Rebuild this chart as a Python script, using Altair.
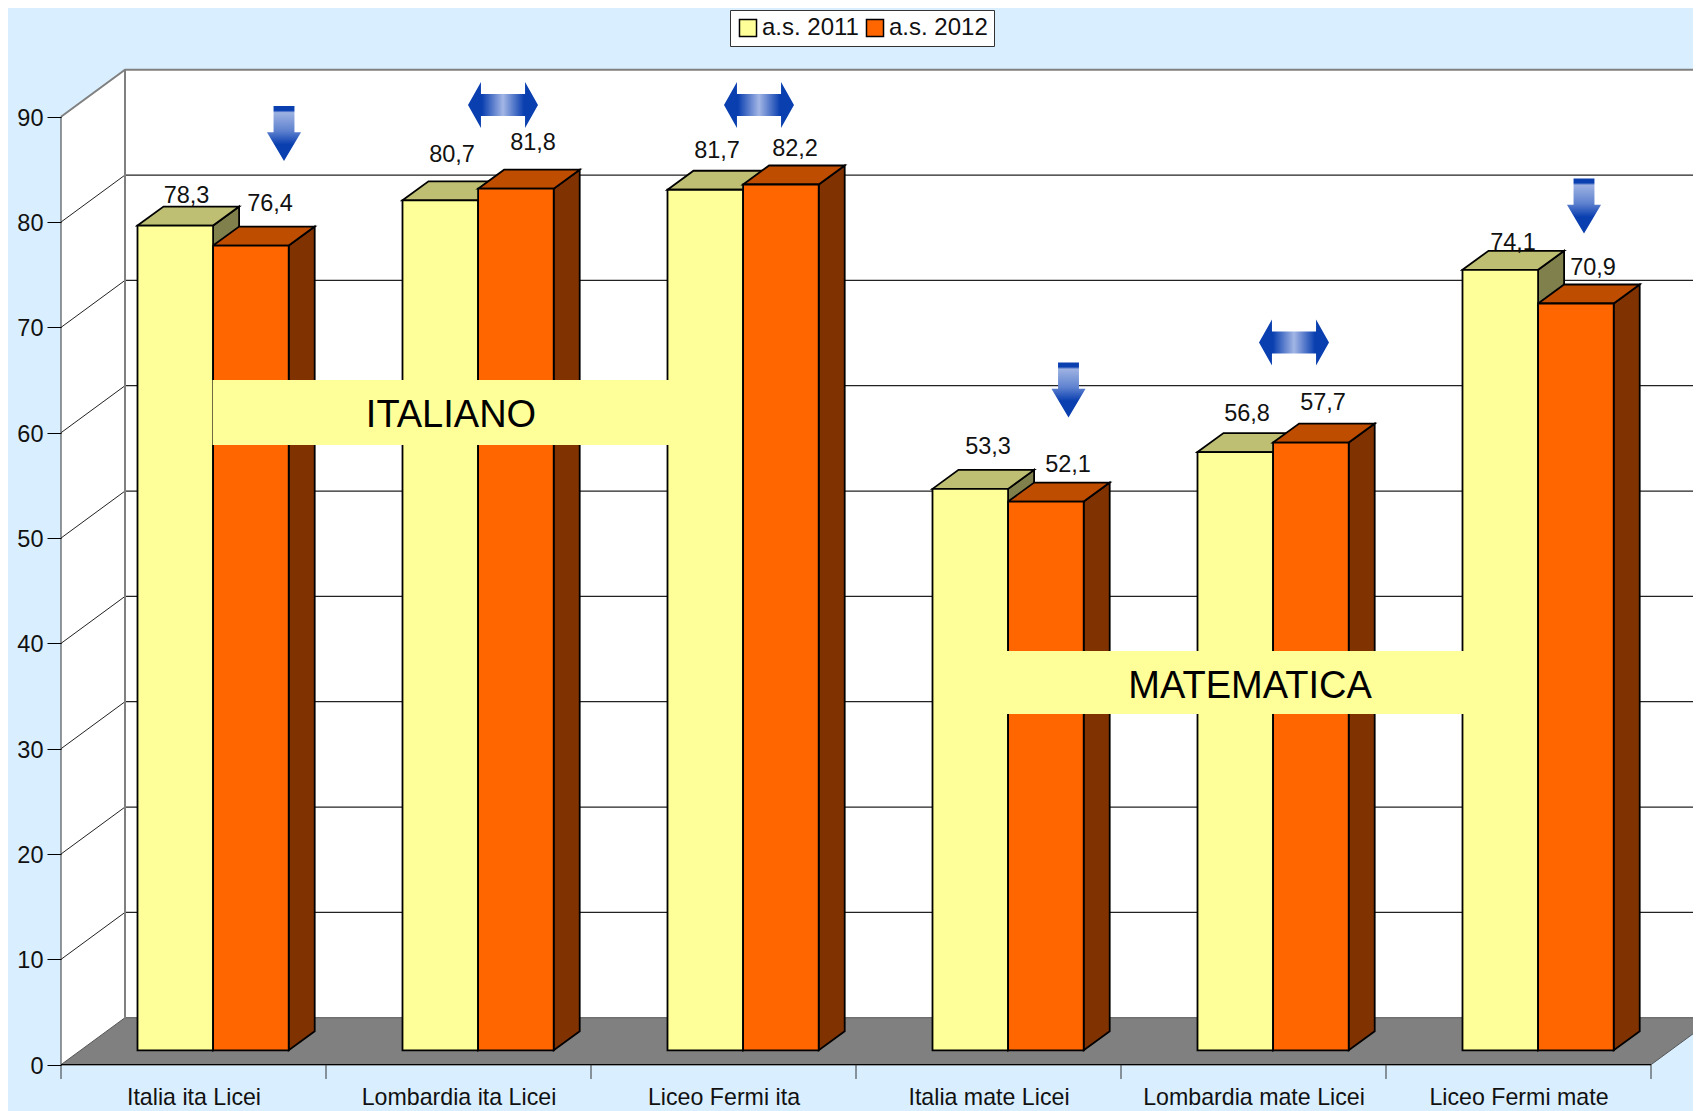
import altair as alt
import pandas as pd

# ---- chart values ----
categories = ["Italia ita Licei", "Lombardia ita Licei", "Liceo Fermi ita",
              "Italia mate Licei", "Lombardia mate Licei", "Liceo Fermi mate"]
series = ["a.s. 2011", "a.s. 2012"]
values_2011 = [78.3, 80.7, 81.7, 53.3, 56.8, 74.1]
values_2012 = [76.4, 81.8, 82.2, 52.1, 57.7, 70.9]
trend = ["down", "same", "same", "down", "same", "down"]
y_ticks = [0, 10, 20, 30, 40, 50, 60, 70, 80, 90]

# ---- layout (page pixels), only used to set up scales and offsets ----
W, H = 1685, 1103
X0, Y0 = 61.0, 1064.7      # axis origin on the front plane
CW = 265.0                 # category width
UY = 10.533                # pixels per value unit
ux = lambda px: (px - X0) / CW
uy = lambda py: (Y0 - py) / UY
DX, DY = 64 / CW, 47 / UY          # depth of the box
BX, BY = 19.6 / CW, 14.4 / UY      # bars' front plane within the box
SX, SY = 26 / CW, 19 / UY          # depth of a bar
BW = 75.6 / CW                     # width of one bar
YMAX = 90

xscale = alt.Scale(domain=[ux(8), ux(8 + W)], nice=False, zero=False)
yscale = alt.Scale(domain=[uy(8 + H), uy(8)], nice=False, zero=False)
XMAX = 6 + DX

FONT = "Liberation Sans"
BG = "#D9EFFF"
COL = {"a.s. 2011": ("#FFFF99", "#BFBF73", "#80804D"),
       "a.s. 2012": ("#FF6600", "#BF4D00", "#803300")}

# ---- axes ----
yaxis = alt.Axis(values=y_ticks, offset=-(X0 - 8), domain=False, grid=False, tickColor="black",
                 tickSize=14, tickWidth=1, labelFont=FONT, labelFontSize=23.5, labelColor="#111111",
                 labelPadding=4, labelOffset=1.5, format="d", zindex=1)
names_js = "[" + ",".join(f"'{c}'" for c in categories) + "]"
xaxis = alt.Axis(values=[i + 0.5 for i in range(6)], offset=-(8 + H - Y0), domain=False, grid=False,
                 ticks=False, labelFont=FONT, labelFontSize=23.2, labelColor="#111111",
                 labelPadding=22, labelExpr=names_js + "[floor(datum.value)]", labelFlush=False,
                 labelOverlap=False, labelLimit=400, zindex=1)


def X():
    return alt.X("x:Q", scale=xscale, axis=xaxis, title=None)


def Y():
    return alt.Y("y:Q", scale=yscale, axis=yaxis, title=None)


# ---- bar tables ----
fronts, sides, tops = [], [], []
for s_i, (name, vals) in enumerate(zip(series, [values_2011, values_2012])):
    for i, v in enumerate(vals):
        xl = i + 0.5 + BX + (s_i - 1) * BW
        xr = xl + BW
        yt = v + BY
        b = BY
        key = f"{name}-{i}"
        fronts.append(dict(series=name, x=xl, x2=xr, y=yt, y2=b))
        sides += [dict(series=name, k=key, x=xr, y=yt, y2=b),
                  dict(series=name, k=key, x=xr + SX, y=yt + SY, y2=b + SY)]
        tops += [dict(series=name, k=key, x=xl, y=yt, y2=yt),
                 dict(series=name, k=key, x=xl + SX, y=yt + SY, y2=yt),
                 dict(series=name, k=key, x=xr, y=yt + SY, y2=yt),
                 dict(series=name, k=key, x=xr + SX, y=yt + SY, y2=yt + SY)]
fronts, sides, tops = map(pd.DataFrame, (fronts, sides, tops))

layers = []

# ---- the 3D box ----
back = pd.DataFrame([dict(x=DX, x2=XMAX, y=DY, y2=YMAX + DY)])
layers.append(alt.Chart(back).mark_rect(fill="white").encode(X(), x2="x2:Q", y=Y(), y2="y2:Q"))
wall = pd.DataFrame([dict(x=0, y=YMAX, y2=0), dict(x=DX, y=YMAX + DY, y2=DY)])
layers.append(alt.Chart(wall).mark_area(fill="white", orient="vertical").encode(X(), y=Y(), y2="y2:Q"))
floor = pd.DataFrame([dict(x=0, y=0, y2=0), dict(x=DX, y=DY, y2=0),
                      dict(x=6, y=DY, y2=0), dict(x=XMAX, y=DY, y2=DY)])
layers.append(alt.Chart(floor).mark_area(fill="#808080", stroke="#555555", strokeWidth=1,
                                         orient="vertical").encode(X(), y=Y(), y2="y2:Q"))

# grid lines on back wall and side wall
grid_back = pd.DataFrame([dict(x=DX, x2=XMAX, y=t + DY) for t in y_ticks[1:-1]])
layers.append(alt.Chart(grid_back).mark_rule(color="#222222", strokeWidth=1.2).encode(X(), x2="x2:Q", y=Y()))
grid_side = pd.DataFrame([r for t in y_ticks[1:-1]
                          for r in (dict(t=t, x=0, y=t), dict(t=t, x=DX, y=t + DY))])
layers.append(alt.Chart(grid_side).mark_line(color="#222222", strokeWidth=1).encode(X(), Y(), detail="t:N"))

# box frame: grey top edges and back corner
frame = pd.DataFrame([dict(x=0, y=YMAX), dict(x=DX, y=YMAX + DY), dict(x=XMAX, y=YMAX + DY)])
layers.append(alt.Chart(frame).mark_line(color="#808080", strokeWidth=2).encode(X(), Y(), order="x:Q"))
corner = pd.DataFrame([dict(x=DX, y=DY, y2=YMAX + DY)])
layers.append(alt.Chart(corner).mark_rule(color="#808080", strokeWidth=2).encode(X(), y=Y(), y2="y2:Q"))

# front edges and category ticks
yline = pd.DataFrame([dict(x=0, y=0, y2=YMAX)])
layers.append(alt.Chart(yline).mark_rule(color="#333333", strokeWidth=1).encode(X(), Y(), y2="y2:Q"))
xline = pd.DataFrame([dict(x=0, x2=6, y=0)])
layers.append(alt.Chart(xline).mark_rule(color="black", strokeWidth=1.3).encode(X(), x2="x2:Q", y=Y()))
xticks = pd.DataFrame([dict(x=i, y=0, y2=-14.3 / UY) for i in range(7)])
layers.append(alt.Chart(xticks).mark_rule(color="#333333", strokeWidth=1).encode(X(), y=Y(), y2="y2:Q"))

# ---- bars ----
for name in series:
    front_c, top_c, side_c = COL[name]
    layers.append(alt.Chart(sides[sides.series == name]).mark_area(
        fill=side_c, stroke="black", strokeWidth=1.8, orient="vertical").encode(X(), y=Y(), y2="y2:Q", detail="k:N"))
    layers.append(alt.Chart(tops[tops.series == name]).mark_area(
        fill=top_c, stroke="black", strokeWidth=1.8, orient="vertical").encode(X(), y=Y(), y2="y2:Q", detail="k:N"))

legend = alt.Legend(orient="none", legendX=722, legendY=2, direction="horizontal", columns=2,
                    fillColor="white", strokeColor="#333333", padding=6, symbolType="square",
                    symbolSize=290, symbolStrokeColor="black", symbolStrokeWidth=1.5,
                    labelFont=FONT, labelFontSize=24, labelColor="#111111", labelOffset=2,
                    columnPadding=4, labelLimit=200, symbolOpacity=1)
layers.append(alt.Chart(fronts).mark_rect(stroke="black", strokeWidth=1.8, opacity=1).encode(
    X(), x2="x2:Q", y=Y(), y2="y2:Q",
    color=alt.Color("series:N", title=None, legend=legend,
                    scale=alt.Scale(domain=series, range=[COL[s][0] for s in series]))))

# ---- value labels (hand placed above the bars in the original) ----
label_px_x = [186.5, 270, 452, 533, 717, 795, 988, 1068, 1247, 1323, 1513, 1593]
label_px_y = [195.5, 203.5, 154.5, 142.5, 150.5, 148.5, 446.5, 464.5, 413.5, 402.5, 242.5, 267.5]
all_vals = [v for pair in zip(values_2011, values_2012) for v in pair]
labels = pd.DataFrame(dict(x=[ux(p) for p in label_px_x], y=[uy(p) for p in label_px_y],
                           t=[f"{v:.1f}".replace(".", ",") for v in all_vals]))
layers.append(alt.Chart(labels).mark_text(font=FONT, fontSize=23.5, color="#111111", baseline="middle",
                                          align="center").encode(X(), Y(), text="t:N"))

# ---- trend arrows ----
DOWN = "M-0.38,-1 L0.38,-1 L0.38,-0.05 L0.62,-0.05 L0,1 L-0.62,-0.05 L-0.38,-0.05 Z"
SAME = ("M-1,0 L-0.63,-0.657 L-0.63,-0.314 L0.63,-0.314 L0.63,-0.657 L1,0 "
        "L0.63,0.657 L0.63,0.314 L-0.63,0.314 L-0.63,0.657 Z")
arrow_px_x = [284, 503, 759, 1068.5, 1294, 1584]
arrow_px_y = [133.5, 105, 105, 390, 342.5, 206]
arrows = pd.DataFrame(dict(x=[ux(p) for p in arrow_px_x], y=[uy(p) for p in arrow_px_y], trend=trend))
down_grad = alt.Gradient(gradient="linear", x1=0, y1=0, x2=0, y2=1, stops=[
    alt.GradientStop(color="#0A3FB0", offset=0), alt.GradientStop(color="#0A3FB0", offset=0.08),
    alt.GradientStop(color="#9DB2E2", offset=0.12), alt.GradientStop(color="#5F82CF", offset=0.45),
    alt.GradientStop(color="#0A3FB0", offset=0.7), alt.GradientStop(color="#0A3FB0", offset=1)])
same_grad = alt.Gradient(gradient="linear", x1=0, y1=0, x2=1, y2=0, stops=[
    alt.GradientStop(color="#0A3FB0", offset=0), alt.GradientStop(color="#0A3FB0", offset=0.2),
    alt.GradientStop(color="#A3B6E5", offset=0.5),
    alt.GradientStop(color="#0A3FB0", offset=0.8), alt.GradientStop(color="#0A3FB0", offset=1)])
layers.append(alt.Chart(arrows[arrows.trend == "down"]).mark_point(
    shape=DOWN, filled=True, fill=down_grad, size=55 ** 2, opacity=1, strokeWidth=0).encode(X(), Y()))
layers.append(alt.Chart(arrows[arrows.trend == "same"]).mark_point(
    shape=SAME, filled=True, fill=same_grad, size=70 ** 2, opacity=1, strokeWidth=0).encode(X(), Y()))

# ---- subject bands ----
bands = pd.DataFrame(dict(x=[ux(212.6), ux(1007)], x2=[ux(690), ux(1480)],
                          y=[uy(380), uy(651)], y2=[uy(445), uy(714)]))
layers.append(alt.Chart(bands).mark_rect(fill="#FFFF99", opacity=1).encode(X(), x2="x2:Q", y=Y(), y2="y2:Q"))
subjects = pd.DataFrame(dict(x=[ux(451), ux(1250)], y=[uy(416), uy(686.5)], t=["ITALIANO", "MATEMATICA"]))
layers.append(alt.Chart(subjects).mark_text(font=FONT, fontSize=38, color="black", baseline="middle",
                                            align="center").encode(X(), Y(), text="t:N"))

chart = alt.layer(*layers).properties(
    width=W, height=H, background=BG, padding=0,
    autosize=alt.AutoSizeParams(type="none", contains="padding"),
).configure_view(stroke=None)

chart.save("out.html", embed_options={"renderer": "svg", "actions": False})
